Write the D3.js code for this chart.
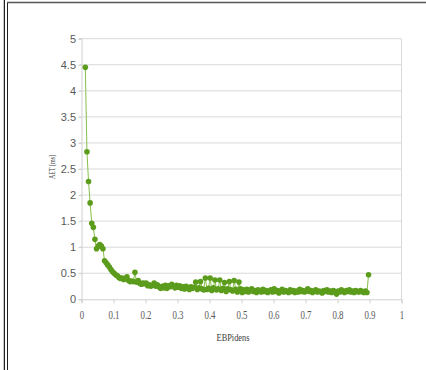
<!DOCTYPE html>
<html>
<head>
<meta charset="utf-8">
<script src="https://cdn.jsdelivr.net/npm/d3@7"></script>
<style>
  html, body { margin: 0; padding: 0; background: #fff; }
  svg { display: block; }
</style>
</head>
<body>
<svg id="chart" width="426" height="370"></svg>
<script>
// EBPidens values (x) and the matching AET in ms (y)
const ebpidens = [
  0.012,0.017,0.022,0.027,0.032,0.037,0.042,0.047,0.052,0.057,
  0.062,0.067,0.072,0.077,0.082,0.087,0.092,0.097,0.102,0.107,
  0.112,0.117,0.122,0.127,0.132,0.137,0.142,0.147,0.152,0.157,
  0.162,0.167,0.172,0.177,0.182,0.187,0.192,0.197,0.202,0.207,
  0.212,0.217,0.222,0.227,0.232,0.237,0.242,0.247,0.252,0.257,
  0.262,0.267,0.272,0.277,0.282,0.287,0.292,0.297,0.302,0.307,
  0.312,0.317,0.322,0.327,0.332,0.337,0.342,0.347,0.352,0.357,
  0.362,0.367,0.372,0.377,0.382,0.387,0.392,0.397,0.402,0.407,
  0.412,0.417,0.422,0.427,0.432,0.437,0.442,0.447,0.452,0.457,
  0.462,0.467,0.472,0.477,0.482,0.487,0.492,0.497,0.502,0.507,
  0.512,0.517,0.522,0.527,0.532,0.537,0.542,0.547,0.552,0.557,
  0.562,0.567,0.572,0.577,0.582,0.587,0.592,0.597,0.602,0.607,
  0.612,0.617,0.622,0.627,0.632,0.637,0.642,0.647,0.652,0.657,
  0.662,0.667,0.672,0.677,0.682,0.687,0.692,0.697,0.702,0.707,
  0.712,0.717,0.722,0.727,0.732,0.737,0.742,0.747,0.752,0.757,
  0.762,0.767,0.772,0.777,0.782,0.787,0.792,0.797,0.802,0.807,
  0.812,0.817,0.822,0.827,0.832,0.837,0.842,0.847,0.852,0.857,
  0.862,0.867,0.872,0.877,0.882,0.887,0.892,0.897
];
const aet = [
  4.45,2.83,2.26,1.85,1.46,1.38,1.15,0.97,1.02,1.05,
  1.02,0.97,0.74,0.70,0.66,0.62,0.57,0.53,0.50,0.47,
  0.45,0.42,0.40,0.41,0.38,0.40,0.43,0.36,0.34,0.35,
  0.34,0.52,0.33,0.36,0.31,0.29,0.31,0.30,0.31,0.26,
  0.28,0.25,0.27,0.31,0.25,0.28,0.24,0.21,0.25,0.22,
  0.27,0.21,0.26,0.24,0.29,0.25,0.22,0.27,0.23,0.26,
  0.21,0.24,0.20,0.25,0.22,0.19,0.24,0.21,0.23,0.33,
  0.19,0.22,0.34,0.20,0.18,0.41,0.19,0.21,0.41,0.17,
  0.22,0.37,0.18,0.20,0.37,0.17,0.21,0.32,0.15,0.20,
  0.34,0.18,0.16,0.36,0.19,0.14,0.33,0.20,0.13,0.18,
  0.15,0.19,0.14,0.17,0.20,0.15,0.17,0.13,0.18,0.16,
  0.14,0.19,0.15,0.17,0.13,0.16,0.18,0.14,0.20,0.15,
  0.17,0.12,0.16,0.19,0.14,0.17,0.15,0.13,0.18,0.15,
  0.17,0.13,0.16,0.14,0.19,0.15,0.17,0.14,0.16,0.20,
  0.15,0.17,0.13,0.16,0.18,0.14,0.16,0.15,0.12,0.17,
  0.15,0.18,0.14,0.16,0.13,0.17,0.15,0.10,0.16,0.14,
  0.18,0.15,0.13,0.17,0.15,0.18,0.14,0.16,0.13,0.17,
  0.15,0.14,0.17,0.15,0.13,0.16,0.13,0.47
];
const xTicks = [0, 0.1, 0.2, 0.3, 0.4, 0.5, 0.6, 0.7, 0.8, 0.9, 1];
const yTicks = [0, 0.5, 1, 1.5, 2, 2.5, 3, 3.5, 4, 4.5, 5];
const xTitle = "EBPidens";
const yTitle = "AET [ms]";

const points = ebpidens.map((v, i) => ({ x: v, y: aet[i] }));

const svg = d3.select("#chart");
const plotLeft = 81.5, plotRight = 401.5, plotTop = 38.7, plotBottom = 299.3;

const x = d3.scaleLinear().domain([0, 1]).range([plotLeft, plotRight]);
const y = d3.scaleLinear().domain([0, 5]).range([plotBottom, plotTop]);

// page frame
svg.append("line").attr("x1", 3.5).attr("x2", 3.5).attr("y1", 0).attr("y2", 370)
  .attr("stroke", "#c8c8c8").attr("stroke-width", 1);
svg.append("line").attr("x1", 4.5).attr("x2", 4.5).attr("y1", 0).attr("y2", 370)
  .attr("stroke", "#222").attr("stroke-width", 1);
svg.append("line").attr("x1", 7.5).attr("x2", 7.5).attr("y1", 2).attr("y2", 370)
  .attr("stroke", "#222").attr("stroke-width", 1);
svg.append("line").attr("x1", 7).attr("x2", 426).attr("y1", 2.5).attr("y2", 2.5)
  .attr("stroke", "#555").attr("stroke-width", 1.4);

// horizontal gridlines
svg.append("g").selectAll("line").data(yTicks.filter(d => d > 0)).join("line")
  .attr("x1", plotLeft - 2).attr("x2", plotRight)
  .attr("y1", d => y(d)).attr("y2", d => y(d))
  .attr("stroke", "#d9d9d9").attr("stroke-width", 1);

// right edge of the plot area
svg.append("line").attr("x1", plotRight).attr("x2", plotRight).attr("y1", plotTop).attr("y2", plotBottom)
  .attr("stroke", "#d9d9d9").attr("stroke-width", 1);

// y axis
const yAxis = svg.append("g").attr("transform", `translate(${plotLeft},0)`)
  .call(d3.axisLeft(y).tickValues(yTicks).tickSize(3).tickFormat(d3.format("")));
yAxis.select(".domain").attr("stroke", "#cfcfcf");
yAxis.selectAll(".tick line").attr("stroke", "#cfcfcf");
yAxis.selectAll(".tick text")
  .attr("x", -5.5)
  .attr("fill", "#595959")
  .style("font-family", "'Liberation Sans Narrow', 'Liberation Sans', sans-serif")
  .style("font-size", "11px");

// x axis
const xAxis = svg.append("g").attr("transform", `translate(0,${plotBottom})`)
  .call(d3.axisBottom(x).tickValues(xTicks).tickSize(4).tickFormat(d3.format("")));
xAxis.select(".domain").attr("stroke", "#cfcfcf");
xAxis.selectAll(".tick line").attr("stroke", "#cfcfcf");
xAxis.selectAll(".tick text")
  .attr("y", 0).attr("dy", 0)
  .attr("fill", "#595959")
  .attr("text-anchor", "middle")
  .style("font-family", "'Liberation Serif', serif")
  .style("font-size", "12px")
  .attr("transform", "translate(0,20) scale(0.74,1)");

// series line
svg.append("path").datum(points)
  .attr("fill", "none")
  .attr("stroke", "#86c04a")
  .attr("stroke-width", 1)
  .attr("d", d3.line().x(d => x(d.x)).y(d => y(d.y)));

// series markers
svg.append("g").selectAll("circle").data(points).join("circle")
  .attr("cx", d => x(d.x)).attr("cy", d => y(d.y))
  .attr("r", 2.8)
  .attr("fill", "#5c9c1c");

// axis titles
svg.append("text")
  .attr("transform", `translate(233,341) scale(0.76,1)`)
  .attr("text-anchor", "middle")
  .attr("fill", "#404040")
  .style("font-family", "'Liberation Serif', serif")
  .style("font-size", "11px")
  .text(xTitle);

svg.append("text")
  .attr("transform", `translate(55,167) rotate(-90)`)
  .attr("text-anchor", "middle")
  .attr("fill", "#404040")
  .style("font-family", "'Liberation Serif', serif")
  .style("font-size", "9px")
  .attr("textLength", 24)
  .attr("lengthAdjust", "spacingAndGlyphs")
  .text(yTitle);
</script>
</body>
</html>
